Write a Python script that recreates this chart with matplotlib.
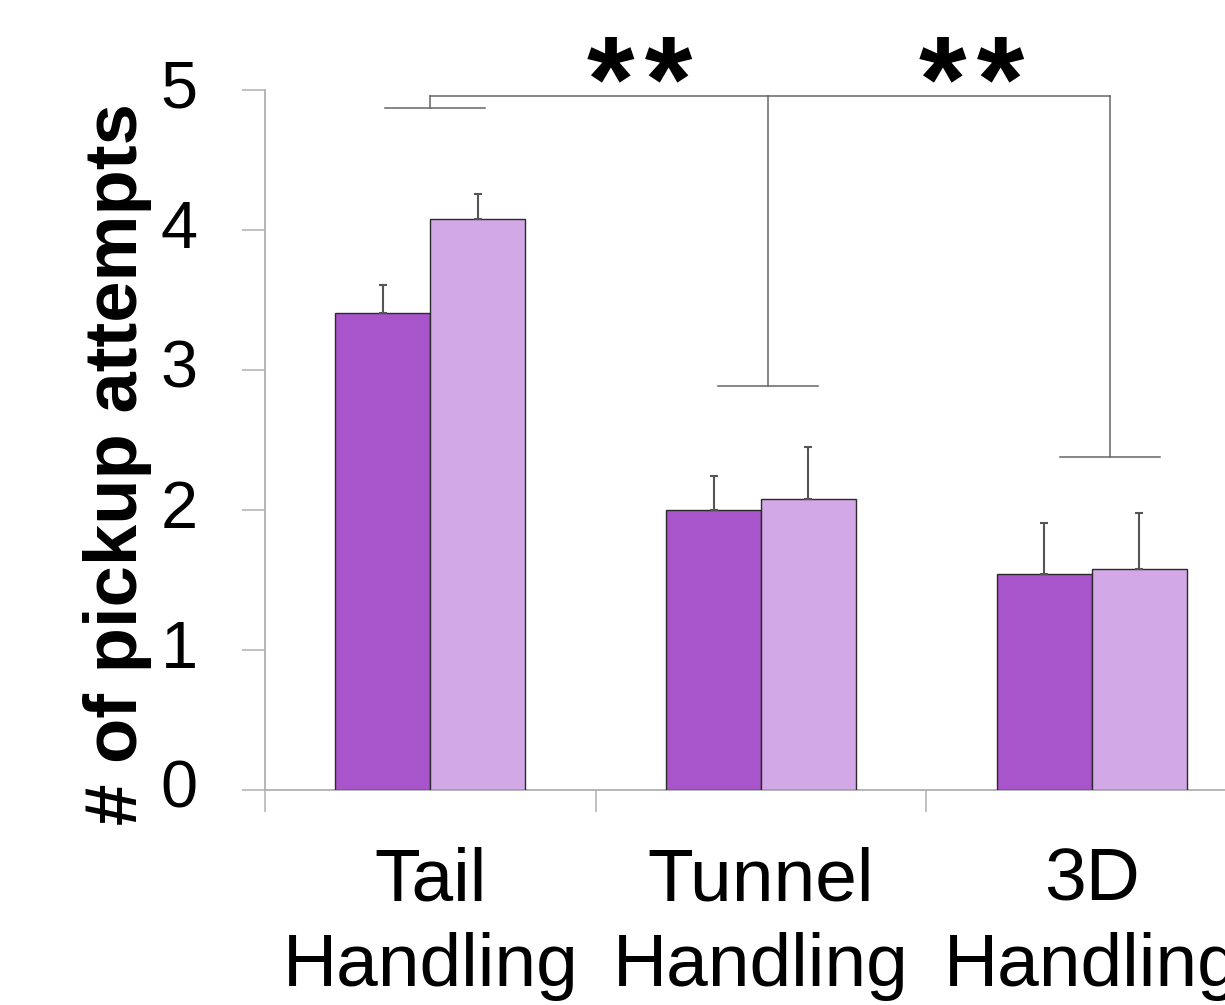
import matplotlib
matplotlib.use("Agg")
import matplotlib.pyplot as plt
import matplotlib.transforms as mtransforms
import numpy as np

# ---- data ----
categories = ["Tail\nHandling", "Tunnel\nHandling", "3D\nHandling"]
dark_vals = [3.41, 2.00, 1.54]
dark_err = [0.20, 0.24, 0.37]
light_vals = [4.08, 2.08, 1.58]
light_err = [0.18, 0.37, 0.40]
yticks = [0, 1, 2, 3, 4, 5]
ylabel = "# of pickup attempts"

# significance annotation (x in category units, y in data units)
sig_top = 4.957
group_bracket_x = [0.015, 1.02, 2.055]
group_bracket_y = [4.871, 2.883, 2.382]
star_labels = ["*\u200a*", "*\u200a*"]
star_x = [0.634, 1.637]

plt.rcParams['font.family'] = ['Liberation Sans', 'DejaVu Sans']

fig = plt.figure(figsize=(12.25, 10.05), dpi=100)
ax = fig.add_axes([265 / 1225, 1 - 790 / 1005, (1257 - 265) / 1225, 700 / 1005])

x = np.arange(len(categories))
w = 0.287
dark_c = "#A855CC"
light_c = "#D3A8E6"
edge = "#2a2a2a"
ax.bar(x - w / 2, dark_vals, w, color=dark_c, edgecolor=edge, linewidth=1.0, zorder=3)
ax.bar(x + w / 2, light_vals, w, color=light_c, edgecolor=edge, linewidth=1.0, zorder=3)
err_kw = dict(fmt="none", ecolor="#555555", elinewidth=1.5, capsize=3, capthick=1.5, zorder=4)
ax.errorbar(x - w / 2, dark_vals, yerr=[np.zeros(3), dark_err], **err_kw)
ax.errorbar(x + w / 2, light_vals, yerr=[np.zeros(3), light_err], **err_kw)

ax.set_xlim(-0.5, 2.5)
ax.set_ylim(0, 5)

spine_c = "#b0b0b0"
for s in ["top", "right"]:
    ax.spines[s].set_visible(False)
for s in ["left", "bottom"]:
    ax.spines[s].set_color(spine_c)
    ax.spines[s].set_linewidth(1.3)

ax.set_yticks(yticks)
ax.set_yticklabels([str(t) for t in yticks])
ax.tick_params(axis="y", direction="out", length=16.5, width=1.1, color=spine_c,
               labelsize=48, pad=32, labelcolor="black")
shift = mtransforms.ScaledTranslation(0, 6 / 100, fig.dpi_scale_trans)
for lab in ax.get_yticklabels():
    lab.set_transform(lab.get_transform() + shift)

ax.set_xticks([-0.5, 0.5, 1.5, 2.5])
ax.set_xticklabels([])
ax.set_xticks(x, minor=True)
ax.set_xticklabels(categories, minor=True, fontsize=54, linespacing=1.3)
ax.tick_params(axis="x", which="major", direction="out", length=16, width=1.1, color=spine_c)
ax.tick_params(axis="x", which="minor", length=0, pad=41)

fig.text(118 / 1225, 1 - 464 / 1005, ylabel, rotation=90, ha="center", va="center",
         fontsize=53.5, fontweight="bold")

# significance brackets
line_kw = dict(color="#666666", linewidth=1.1, clip_on=False, zorder=5)
half = 0.151
ax.plot([0.0, group_bracket_x[2]], [sig_top, sig_top], **line_kw)
ax.plot([0.0, 0.0], [sig_top, group_bracket_y[0]], **line_kw)
ax.plot([group_bracket_x[0] - half, group_bracket_x[0] + half], [group_bracket_y[0]] * 2, **line_kw)
ax.plot([group_bracket_x[1], group_bracket_x[1]], [sig_top, group_bracket_y[1]], **line_kw)
ax.plot([group_bracket_x[1] - half, group_bracket_x[1] + half], [group_bracket_y[1]] * 2, **line_kw)
ax.plot([group_bracket_x[2], group_bracket_x[2]], [sig_top, group_bracket_y[2]], **line_kw)
ax.plot([group_bracket_x[2] - half, group_bracket_x[2] + half], [group_bracket_y[2]] * 2, **line_kw)

for sx, lab in zip(star_x, star_labels):
    ax.text(sx, 4.78, lab, ha="center", va="baseline", fontsize=88, fontweight="bold",
            clip_on=False, zorder=6)

fig.savefig("out.png", dpi=100)
